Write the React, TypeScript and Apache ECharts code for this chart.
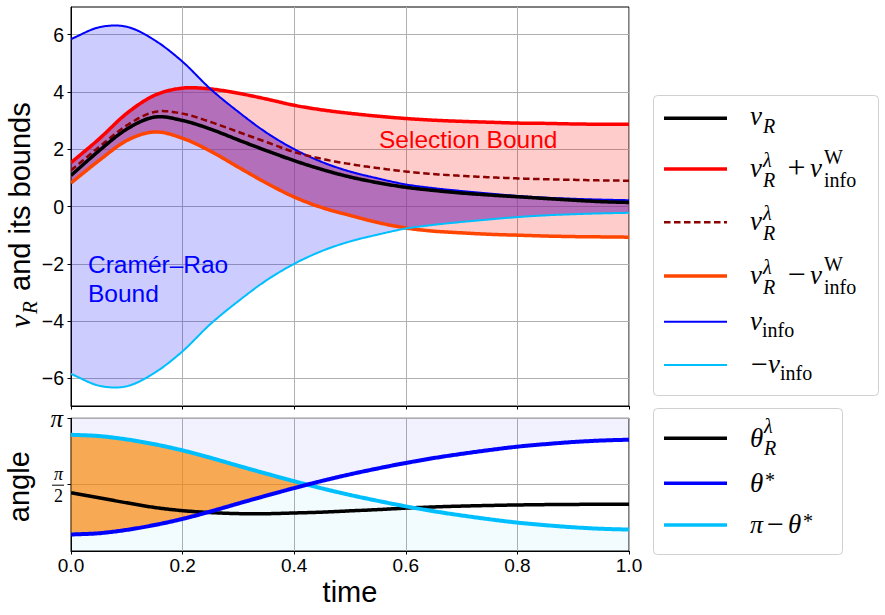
import React, { useEffect, useRef } from 'react';
import * as echarts from 'echarts';

// ---------- data ----------
const time = [0, 0.05, 0.1, 0.15, 0.2, 0.25, 0.3, 0.35, 0.4, 0.45, 0.5, 0.55, 0.6, 0.65, 0.7, 0.75, 0.8, 0.85, 0.9, 0.95, 1.0];
const vInfo = [5.84, 6.25, 6.27, 5.8, 5.05, 4.1, 3.3, 2.58, 2.0, 1.55, 1.22, 0.98, 0.77, 0.64, 0.54, 0.45, 0.37, 0.31, 0.27, 0.24, 0.22];
const vPlus = [1.53, 2.35, 3.25, 3.88, 4.13, 4.1, 3.95, 3.75, 3.53, 3.37, 3.25, 3.15, 3.07, 3.01, 2.97, 2.94, 2.91, 2.9, 2.88, 2.87, 2.87];
const vLam = [1.26, 2.07, 2.83, 3.3, 3.24, 2.95, 2.6, 2.25, 1.9, 1.66, 1.48, 1.34, 1.22, 1.13, 1.07, 1.02, 0.98, 0.95, 0.93, 0.91, 0.9];
const vMinus = [0.82, 1.6, 2.3, 2.6, 2.38, 1.93, 1.37, 0.82, 0.33, -0.04, -0.31, -0.56, -0.75, -0.86, -0.92, -0.97, -1.0, -1.03, -1.05, -1.06, -1.07];
const vR = [1.08, 1.94, 2.7, 3.12, 3.0, 2.7, 2.32, 1.95, 1.6, 1.29, 1.03, 0.83, 0.67, 0.56, 0.47, 0.4, 0.34, 0.28, 0.22, 0.17, 0.14];

const thetaStar = [0.39, 0.42, 0.5, 0.615, 0.76, 0.935, 1.125, 1.31, 1.49, 1.66, 1.815, 1.955, 2.085, 2.2, 2.3, 2.39, 2.47, 2.53, 2.58, 2.615, 2.635];
const thetaR = [1.38, 1.26, 1.14, 1.03, 0.955, 0.91, 0.885, 0.883, 0.9, 0.92, 0.95, 0.98, 1.015, 1.043, 1.063, 1.078, 1.09, 1.098, 1.103, 1.106, 1.106];

const yTicksTop = [-6, -4, -2, 0, 2, 4, 6];
const yTicksAngle = [Math.PI / 2, Math.PI];
const vLimit = 6.96;

// ---------- helpers ----------
const SANS = '"Liberation Sans", Arial, sans-serif';
const SERIF = '"Liberation Serif", "DejaVu Serif", serif';
const pts = (xs: number[], ys: number[]) => xs.map((x, i) => [x, ys[i]]);

// smooth (cubic Hermite) curve through the read points, used only for drawing
function spline(xs: number[], ys: number[]) {
  const n = xs.length;
  const m = ys.map((_, i) => {
    if (i === 0) return (ys[1] - ys[0]) / (xs[1] - xs[0]);
    if (i === n - 1) return (ys[n - 1] - ys[n - 2]) / (xs[n - 1] - xs[n - 2]);
    return (ys[i + 1] - ys[i - 1]) / (xs[i + 1] - xs[i - 1]);
  });
  return (x: number) => {
    let i = 0;
    while (i < n - 2 && x > xs[i + 1]) i++;
    const h = xs[i + 1] - xs[i];
    const t = Math.min(1, Math.max(0, (x - xs[i]) / h));
    const t2 = t * t, t3 = t2 * t;
    return (2 * t3 - 3 * t2 + 1) * ys[i] + (t3 - 2 * t2 + t) * h * m[i] + (-2 * t3 + 3 * t2) * ys[i + 1] + (t3 - t2) * h * m[i + 1];
  };
}
const SAMPLES = Array.from({ length: 401 }, (_, i) => i / 400);

function curve(name: string, gi: number, xs: number[], ys: number[], color: string, width: number, dash?: number[]) {
  const f = spline(xs, ys);
  return {
    type: 'custom', name, coordinateSystem: 'cartesian2d', xAxisIndex: gi, yAxisIndex: gi, silent: true, clip: true,
    data: pts(xs, ys), encode: { x: 0, y: 1 },
    renderItem: (params: any, api: any) => {
      if (params.dataIndex !== 0) return null;
      const points = SAMPLES.map((x) => api.coord([x, f(x)]));
      return { type: 'polyline', shape: { points }, style: { stroke: color, lineWidth: width, fill: 'none', lineDash: dash || null, lineCap: 'butt', lineJoin: 'round' } };
    },
  };
}
function band(name: string, gi: number, xs: number[], lo: (x: number) => number, hi: (x: number) => number, color: string) {
  return {
    type: 'custom', name, coordinateSystem: 'cartesian2d', xAxisIndex: gi, yAxisIndex: gi, silent: true, clip: true,
    data: xs.map((x) => [x, lo(x), hi(x)]), encode: { x: 0, y: [1, 2] },
    renderItem: (params: any, api: any) => {
      if (params.dataIndex !== 0) return null;
      const up = SAMPLES.map((x) => api.coord([x, Math.max(lo(x), hi(x))]));
      const dn = SAMPLES.slice().reverse().map((x) => api.coord([x, lo(x)]));
      return { type: 'polygon', shape: { points: up.concat(dn) }, style: { fill: color, stroke: 'none' } };
    },
  };
}

const tok = (t: string, x: number, b: number, s: number, italic = true, align = 'left', fam = SERIF) => ({
  type: 'text', x, y: b - 0.3375 * s, z: 100, silent: true,
  style: { text: t, font: `${italic ? 'italic ' : ''}${s}px ${fam}`, fill: '#000', align, verticalAlign: 'middle', textAlign: align, textVerticalAlign: 'middle' },
});
const legLine = (y: number, color: string, w: number, dash?: number[]) => ({
  type: 'line', z: 100, silent: true,
  shape: { x1: 664, y1: y, x2: 727, y2: y },
  style: { stroke: color, lineWidth: w, lineDash: dash || null, lineCap: 'butt' },
});

export default function App() {
  const ref = useRef<HTMLDivElement>(null);
  useEffect(() => {
    if (!ref.current) return;
    const chart = echarts.init(ref.current, undefined, { renderer: 'svg' });

    const fInfo = spline(time, vInfo);
    const fPlus = spline(time, vPlus);
    const fMinus = spline(time, vMinus);
    const fTheta = spline(time, thetaStar);
    const fNegInfo = (x: number) => -fInfo(x);
    const fPiMinus = (x: number) => Math.PI - fTheta(x);
    const negInfo = vInfo.map((v) => -v);
    const piMinus = thetaStar.map((v) => Math.PI - v);

    const M = 27; // math size
    const S = 20; // script size

    const graphic: any[] = [
      // annotations
      { type: 'text', x: 379, y: 139.8, z: 100, silent: true, style: { text: 'Selection Bound', font: `24.5px ${SANS}`, fill: '#ff0000', align: 'left', verticalAlign: 'middle' } },
      { type: 'text', x: 88, y: 264.2, z: 100, silent: true, style: { text: 'Cramér–Rao', font: `24.5px ${SANS}`, fill: '#0000ff', align: 'left', verticalAlign: 'middle' } },
      { type: 'text', x: 88, y: 293.2, z: 100, silent: true, style: { text: 'Bound', font: `24.5px ${SANS}`, fill: '#0000ff', align: 'left', verticalAlign: 'middle' } },
      // axis names
      { type: 'text', x: 350, y: 591.5, z: 100, silent: true, style: { text: 'time', font: `29px ${SANS}`, fill: '#000', align: 'center', verticalAlign: 'middle' } },
      {
        type: 'group', x: 29, y: 486.7, rotation: Math.PI / 2, z: 100, silent: true,
        children: [{ type: 'text', x: 0, y: -0.3465 * 29, style: { text: 'angle', font: `29px ${SANS}`, fill: '#000', align: 'center', verticalAlign: 'middle' } }],
      },
      {
        type: 'group', x: 30, y: 328, rotation: Math.PI / 2, z: 100, silent: true,
        children: [
          { type: 'text', x: 0, y: -0.3375 * 30, style: { text: 'v', font: `italic 30px ${SERIF}`, fill: '#000', align: 'left', verticalAlign: 'middle' } },
          { type: 'text', x: 14, y: 7 - 0.3375 * 21, style: { text: 'R', font: `italic 21px ${SERIF}`, fill: '#000', align: 'left', verticalAlign: 'middle' } },
          { type: 'text', x: 37, y: -0.3465 * 29, style: { text: 'and its bounds', font: `29px ${SANS}`, fill: '#000', align: 'left', verticalAlign: 'middle' } },
        ],
      },
      // fraction bar of pi/2 tick label
      { type: 'line', z: 100, silent: true, shape: { x1: 52, y1: 485.2, x2: 64, y2: 485.2 }, style: { stroke: '#000', lineWidth: 1 } },
      // legend boxes
      { type: 'rect', z: 99, silent: true, shape: { x: 653.5, y: 95.5, width: 225, height: 300, r: 4 }, style: { fill: '#fff', stroke: '#d0d0d0', lineWidth: 1 } },
      { type: 'rect', z: 99, silent: true, shape: { x: 653.5, y: 408.5, width: 189, height: 146, r: 4 }, style: { fill: '#fff', stroke: '#d0d0d0', lineWidth: 1 } },
      // legend 1 lines
      legLine(118.3, '#000000', 3.5),
      legLine(169, '#ff0000', 3.5),
      legLine(222.3, '#8b0000', 2.5, [6.5, 3.5]),
      legLine(276, '#ff4500', 3.5),
      legLine(321.7, '#0000ff', 2),
      legLine(365, '#00bfff', 2),
      // legend 2 lines
      legLine(438.3, '#000000', 3.5),
      legLine(483.3, '#0000ff', 3.5),
      legLine(525, '#00bfff', 3.5),
      // legend 1 texts
      tok('v', 750, 125, M), tok('R', 763, 133, S),
      tok('v', 750, 176.7, M), tok('λ', 763, 166.7, S), tok('R', 763, 186.7, S), tok('+', 796.5, 177.5, 32, false, 'center'),
      tok('v', 810, 176.7, M), tok('W', 824, 163.3, S, false), tok('info', 824, 186.7, S, false),
      tok('v', 750, 230, M), tok('λ', 763, 220, S), tok('R', 763, 240, S),
      tok('v', 750, 283.7, M), tok('λ', 763, 273.7, S), tok('R', 763, 293.7, S), tok('\u2212', 796.5, 284.5, 32, false, 'center'),
      tok('v', 810, 283.7, M), tok('W', 824, 270.3, S, false), tok('info', 824, 293.7, S, false),
      tok('v', 750, 330, M), tok('info', 762, 336.7, S, false),
      tok('\u2212', 759.5, 374, 30, false, 'center'), tok('v', 768, 373.3, M), tok('info', 780, 380, S, false),
      // legend 2 texts
      tok('θ', 750, 447, M), tok('λ', 764, 433, S), tok('R', 764, 455, S),
      tok('θ', 750, 492, M), tok('*', 765, 486.5, S, false),
      tok('π', 750, 533, 26), tok('\u2212', 775.5, 534, 30, false, 'center'), tok('θ', 788, 533, M), tok('*', 803, 528, S, false),
    ];

    const axisCommon = {
      axisLine: { show: true, onZero: false, lineStyle: { color: '#000', width: 1 } },
      axisTick: { show: true, inside: false, length: 3.5, lineStyle: { color: '#000', width: 1 } },
      splitLine: { show: true, lineStyle: { color: '#b0b0b0', width: 1 } },
    };

    const option: any = {
      animation: false,
      grid: [
        { left: 71, top: 7, width: 558, height: 399, show: true, borderColor: '#000', borderWidth: 1, backgroundColor: 'transparent' },
        { left: 71, top: 418.3, width: 558, height: 132.7, show: true, borderColor: '#000', borderWidth: 1, backgroundColor: 'transparent' },
      ],
      xAxis: [
        { ...axisCommon, gridIndex: 0, type: 'value', min: 0, max: 1, interval: 0.2, axisLabel: { show: false } },
        {
          ...axisCommon, gridIndex: 1, type: 'value', min: 0, max: 1, interval: 0.2,
          axisLabel: { show: true, margin: 5, color: '#000', fontSize: 19, fontFamily: SANS, formatter: (v: number) => v.toFixed(1) },
        },
      ],
      yAxis: [
        {
          ...axisCommon, gridIndex: 0, type: 'value', min: -vLimit, max: vLimit,
          axisTick: { ...axisCommon.axisTick, customValues: yTicksTop },
          axisLabel: { customValues: yTicksTop, margin: 7, color: '#000', fontSize: 19.5, fontFamily: SANS, formatter: (v: number) => (v < 0 ? '\u2212' : '') + Math.abs(Math.round(v)) },
        },
        {
          ...axisCommon, gridIndex: 1, type: 'value', min: 0, max: Math.PI,
          axisTick: { ...axisCommon.axisTick, customValues: yTicksAngle },
          axisLabel: {
            customValues: yTicksAngle, margin: 8, color: '#000',
            formatter: (v: number) => (v > 3 ? '{p|π}' : '{n|π}\n{d|2}'),
            rich: {
              p: { fontFamily: SERIF, fontStyle: 'italic', fontSize: 25, color: '#000' },
              n: { fontFamily: SERIF, fontStyle: 'italic', fontSize: 18, lineHeight: 22, align: 'center', color: '#000' },
              d: { fontFamily: SERIF, fontSize: 18, lineHeight: 22, align: 'center', color: '#000' },
            },
          },
        },
      ],
      series: [
        // top fills
        band('Cramér–Rao band', 0, time, fNegInfo, fInfo, 'rgba(0,0,255,0.2)'),
        band('Selection band', 0, time, fMinus, fPlus, 'rgba(255,0,0,0.2)'),
        band('overlap', 0, time, (x) => Math.max(fMinus(x), fNegInfo(x)), (x) => Math.min(fPlus(x), fInfo(x)), 'rgba(144,59,166,0.5)'),
        // top lines
        curve('v_R^λ + v_info^W', 0, time, vPlus, '#ff0000', 3.5),
        curve('v_R^λ − v_info^W', 0, time, vMinus, '#ff4500', 3.5),
        curve('v_info', 0, time, vInfo, '#0000ff', 2),
        curve('−v_info', 0, time, negInfo, '#00bfff', 2),
        curve('v_R^λ', 0, time, vLam, '#8b0000', 2.5, [6.5, 3.5]),
        curve('v_R', 0, time, vR, '#000000', 3.5),
        // bottom fills
        band('below', 1, time, () => 0, (x) => Math.min(fTheta(x), fPiMinus(x)), 'rgba(0,191,255,0.05)'),
        band('above', 1, time, (x) => Math.max(fTheta(x), fPiMinus(x)), () => Math.PI, 'rgba(0,0,255,0.05)'),
        band('orange', 1, time, fTheta, (x) => Math.max(fTheta(x), fPiMinus(x)), 'rgba(244,132,12,0.7)'),
        // bottom lines
        curve('θ_R^λ', 1, time, thetaR, '#000000', 3.5),
        curve('π − θ*', 1, time, piMinus, '#00bfff', 4),
        curve('θ*', 1, time, thetaStar, '#0000ff', 4),
      ],
      graphic,
    };
    chart.setOption(option);
    return () => chart.dispose();
  }, []);
  return <div ref={ref} style={{ position: 'fixed', left: 0, top: 0, width: 885, height: 615, background: '#fff' }} />;
}
